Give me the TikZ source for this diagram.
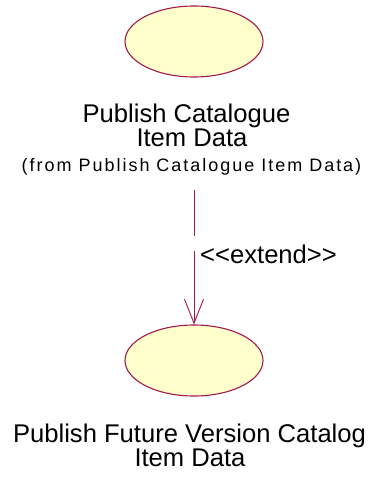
\documentclass[tikz,border=0pt]{standalone}
\usepackage{fontspec}
\setmainfont{Liberation Sans}
\usetikzlibrary{shapes.geometric,arrows.meta}
\definecolor{ucfill}{HTML}{FFFFCC}
\definecolor{ucline}{HTML}{A3194B}
\begin{document}
\begin{tikzpicture}[x=1pt,y=-1pt,
  usecase/.style={ellipse,draw=ucline,fill=ucfill,line width=1.1pt,minimum width=138pt,minimum height=71pt,inner sep=0pt},
  bigtext/.style={anchor=base,inner sep=0pt,font=\fontsize{25.6}{30}\selectfont},
  smalltext/.style={anchor=base,inner sep=0pt,font=\fontsize{18}{22}\selectfont\addfontfeature{LetterSpace=11}},
  extendline/.style={draw=ucline,line width=0.9pt,dash pattern=on 46pt off 15pt on 300pt,-{Straight Barb[length=24pt,width=19pt,line width=0.9pt]}}]
\useasboundingbox (0,0) rectangle (372,479);
\node[usecase] (top) at (194,41.5) {};
\node[bigtext] (t1) at (186.5,122) {Publish Catalogue};
\node[bigtext] (t2) at (192,146.5) {Item Data};
\node[smalltext] (t3) at (191.5,171.5) {(from Publish Catalogue Item Data)};
\node[usecase] (bot) at (194,360.5) {};
\node[bigtext] (b1) at (189.5,442) {Publish Future Version Catalog};
\node[bigtext] (b2) at (190,466) {Item Data};
\coordinate (start) at (bot.north |- 0,190);
\draw[extendline] (start) -- (bot.north);
\node[anchor=base west,inner sep=0pt,font=\fontsize{25.6}{30}\selectfont] (lbl) at (200,263.5) {{<}{<}extend{>}{>}};
\end{tikzpicture}
\end{document}
